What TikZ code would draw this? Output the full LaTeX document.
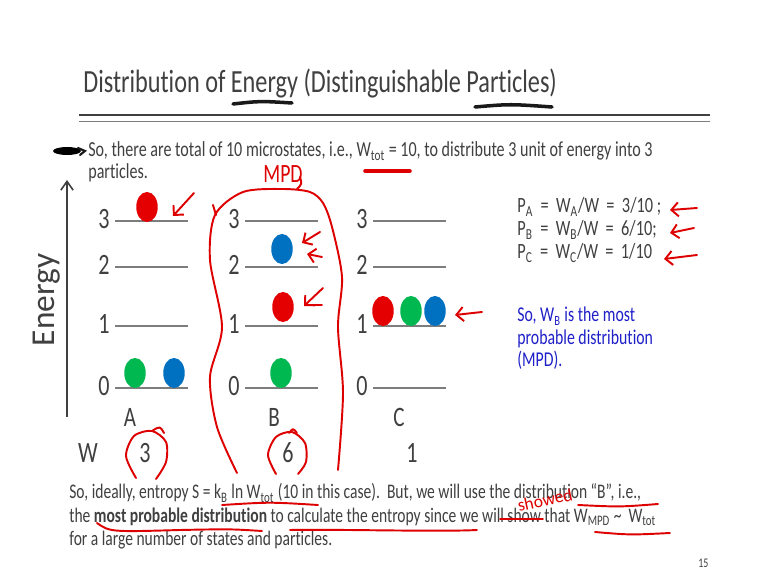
\documentclass[tikz,border=0pt]{standalone}
\usepackage{fontspec}
\setmainfont[FakeStretch=0.75, Ligatures=NoCommon]{Carlito}
\newfontfamily\plainfont[Ligatures=NoCommon]{Carlito}
\usepackage{tikz}
\usetikzlibrary{arrows.meta,positioning,shapes.geometric}
\definecolor{slidegray}{RGB}{64,64,64}
\definecolor{ballred}{RGB}{228,0,0}
\definecolor{ballgreen}{RGB}{0,184,80}
\definecolor{ballblue}{RGB}{0,112,192}
\definecolor{penred}{RGB}{222,0,0}
\definecolor{noteblue}{RGB}{32,32,200}
\definecolor{lvlgray}{RGB}{125,125,125}
\newcommand{\sub}[1]{\textsubscript{#1}}

\begin{document}
\begin{tikzpicture}[x=0.02cm, y=-0.02cm,
  txt/.style={anchor=base west, inner sep=0pt, text=slidegray,
              font=\fontsize{12.2}{14}\selectfont},
  para/.style={txt, font=\fontsize{11.8}{14}\selectfont},
  note/.style={txt, text=noteblue, font=\fontsize{12}{14}\selectfont},
  prob/.style={txt, font=\fontsize{12.4}{14}\selectfont},
  digit/.style={anchor=base, inner sep=0pt, text=slidegray,
                font=\fontsize{16.8}{20}\selectfont},
  lvl/.style={lvlgray, line width=1.1pt},
  ball/.style={ellipse, inner sep=0pt, minimum width=0.43cm,
               minimum height=0.6cm},
  pen/.style={penred, line width=1.1pt, line cap=round, line join=round},
  harrow/.style={pen, -{Straight Barb[length=4pt, width=8pt]}},
  ink/.style={black!90, line width=2pt, line cap=round}]

  \fill[white] (0,0) rectangle (762,581);
  \useasboundingbox (0,0) rectangle (762,581);

  % title and rules
  \node[txt, font=\fontsize{18.4}{22}\selectfont] (title) at (83,93)
    {Distribution of Energy (Distinguishable Particles)};
  \draw[slidegray, line width=1.7pt] (79,115) -- (710,115);
  \draw[lvlgray, line width=0.7pt] (79,121.5) -- (710,121.5);
  \draw[ink] (233,104) .. controls (260,101) .. (292,103);
  \draw[ink] (475,107) .. controls (510,104) .. (552,107);

  % first bullet
  \node[txt] (line1) at (88,157)
    {So, there are total of 10 microstates, i.e., W\sub{tot} = 10, to distribute 3 unit of energy into 3};
  \node[txt] (line2) at (88,179) {particles.};
  \fill[black] (67,151) ellipse [x radius=14, y radius=4];
  \draw[ink, line width=1.2pt] (78,148) -- (85,151) -- (80,155);

  % energy axis
  \coordinate (ebot) at (67,417);
  \coordinate (etop) at (67,180);
  \draw[slidegray, line width=0.9pt, -{Straight Barb[length=5pt, width=7pt]}] (ebot) -- (etop);
  \node[rotate=90, text=slidegray, inner sep=0pt,
        font=\plainfont\fontsize{19}{22}\selectfont] (energy) at (47,300) {Energy};

  % energy levels of the three distributions
  \foreach \c/\x in {A/115, B/245, C/373}{
    \foreach \e/\y in {3/221, 2/267, 1/326, 0/388}{
      \node[digit] (\c\e) at (\x-11,\y+8) {\e};
      \draw[lvl] (\x,\y) -- ++(73,0);
    }
  }

  % particles
  \node[ball, fill=ballred]   (rA) at (147,207) {};
  \node[ball, fill=ballgreen] (gA) at (135,373) {};
  \node[ball, fill=ballblue]  (bA) at (174,373) {};
  \node[ball, fill=ballblue]  (bB) at (282,249) {};
  \node[ball, fill=ballred]   (rB) at (283,307) {};
  \node[ball, fill=ballgreen] (gB) at (281,373) {};
  \node[ball, fill=ballred]   (rC) at (383,311) {};
  \node[ball, fill=ballgreen] (gC) at (411,311) {};
  \node[ball, fill=ballblue]  (bC) at (435,311) {};

  % column names and weights
  \node[digit, font=\fontsize{16}{18}\selectfont] (nA) at (130,427) {A};
  \node[digit, font=\fontsize{16}{18}\selectfont] (nB) at (274,427) {B};
  \node[digit, font=\fontsize{16}{18}\selectfont] (nC) at (399,427) {C};
  \node[digit] (wlab) at (88,462) {W};
  \node[digit] (wA) at (145,462) {3};
  \node[digit] (wB) at (288,462) {6};
  \node[digit] (wC) at (412,462) {1};

  % probabilities
  \node[prob] (pA) at (517,213) {P\sub{A}\ \ =\ \ W\sub{A}/W\ \ =\ \ 3/10\ ;};
  \node[prob] (pB) at (517,236) {P\sub{B}\ \ =\ \ W\sub{B}/W\ \ =\ \ 6/10;};
  \node[prob] (pC) at (517,259) {P\sub{C}\ \ =\ \ W\sub{C}/W\ \ =\ \ 1/10};
  \node[note] (mpd1) at (517,322) {So, W\sub{B} is the most};
  \node[note] (mpd2) at (517,345) {probable distribution};
  \node[note] (mpd3) at (517,367) {(MPD).};

  % closing paragraph
  \node[para] (last1) at (69,499)
    {So, ideally, entropy S = k\sub{B} ln W\sub{tot} (10 in this case).\ \ But, we will use the distribution “B”, i.e.,};
  \node[para] (last2) at (69,522)
    {the \textbf{most probable distribution} to calculate the entropy since we will show that W\sub{MPD} \textasciitilde\ \ W\sub{tot}};
  \node[para] (last3) at (69,545) {for a large number of states and particles.};
  \node[txt, font=\fontsize{7.5}{9}\selectfont] (page) at (698,567) {15};

  % red pen marks
  \draw[pen, line width=2pt] (365,171) -- (410,171);
  \node[text=penred, inner sep=0pt, font=\fontsize{15}{18}\selectfont] (mpd) at (283,174) {MPD};
  \draw[pen] plot[smooth] coordinates {(237,473) (217,427) (210,377) (222,327)
    (210,260) (215,215) (243,192) (283,189) (310,192) (323,203) (332,227)
    (342,277) (338,327) (343,393) (338,470)};
  \draw[pen] (213,205) -- (216,215);
  \draw[pen] (300,177) .. controls (302,184) .. (297,189);
  \draw[pen] plot[smooth] coordinates {(136,478) (126,456) (134,436) (152,431) (166,442) (166,462) (156,479)};
  \draw[pen] (152,431) .. controls (160,426) .. (164,433);
  \draw[pen] plot[smooth] coordinates {(276,474) (268,455) (276,437) (292,432) (305,443) (306,462) (298,474)};
  \draw[pen] (289,433) .. controls (293,428) .. (297,433);
  \draw[harrow] (194,193) -- (173,216);
  \draw[harrow] (320,232) -- (302,243);
  \draw[harrow] (322,257) -- (307,254);
  \draw[harrow] (323,288) -- (304,306);
  \draw[pen] (307,305) -- (322,305);
  \draw[harrow] (482,312) -- (455,315);
  \draw[harrow] (697,208) -- (670,210);
  \draw[harrow] (694,228) -- (670,233);
  \draw[harrow] (697,255) -- (664,259);
  \draw[pen] (222,505) .. controls (270,502) .. (318,505);
  \draw[pen] (97,523) .. controls (110,532) .. (180,530) .. controls (230,529) .. (262,531);
  \draw[pen] (290,530) .. controls (330,529) and (440,532) .. (477,530);
  \draw[pen] (500,519) -- (543,519);
  \node[text=penred, rotate=12, inner sep=0pt, font=\plainfont\fontsize{10}{12}\selectfont] (showed) at (545,500) {showed};
  \draw[pen] (578,505) .. controls (620,507) .. (658,504);
  \draw[pen] (595,532) .. controls (630,535) .. (670,533);
\end{tikzpicture}
\end{document}
